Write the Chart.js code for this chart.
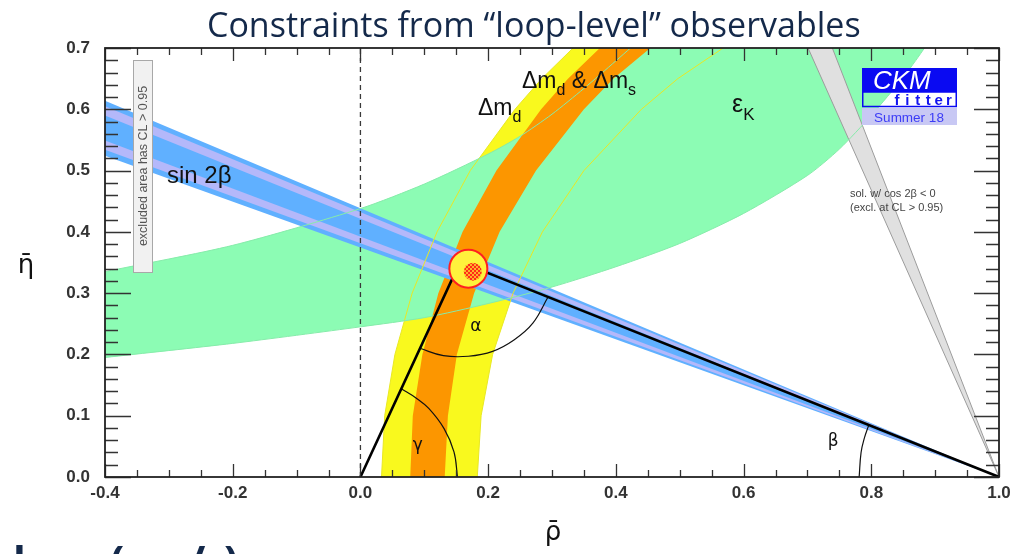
<!DOCTYPE html>
<html lang="en">
<head>
<meta charset="utf-8">
<title>Constraints from loop-level observables</title>
<script src="https://cdn.jsdelivr.net/npm/chart.js@4.4.1/dist/chart.umd.min.js"></script>
<style>
    html, body { margin: 0; padding: 0; background: #ffffff; }
    #ckm-wrap { width: 1025px; height: 554px; overflow: hidden; }
    canvas { display: block; }
</style>
</head>
<body>
<div id="ckm-wrap"><canvas id="ckm-chart" width="1025" height="554"></canvas></div>
<script>
// axis ticks
const xTickValues = [-0.4, -0.2, 0.0, 0.2, 0.4, 0.6, 0.8, 1.0];
const xTickLabels = ['-0.4', '-0.2', '0.0', '0.2', '0.4', '0.6', '0.8', '1.0'];
const yTickValues = [0.0, 0.1, 0.2, 0.3, 0.4, 0.5, 0.6, 0.7];
const yTickLabels = ['0.0', '0.1', '0.2', '0.3', '0.4', '0.5', '0.6', '0.7'];
const xMinorStep = 0.05;
const yMinorStep = 0.02;

// band edges, as [rho, eta]
const dmdOuter = [[0.033, 0], [0.038, 0.1], [0.054, 0.2], [0.081, 0.3], [0.120, 0.4], [0.172, 0.5], [0.242, 0.6], [0.284, 0.65], [0.333, 0.7], [0.402, 0.76]];
const dmdInner = [[0.183, 0], [0.189, 0.1], [0.207, 0.2], [0.239, 0.3], [0.285, 0.4], [0.350, 0.5], [0.440, 0.6], [0.497, 0.65], [0.568, 0.7], [0.687, 0.76]];
const dmsLeft = [[0.078, 0], [0.082, 0.1], [0.097, 0.2], [0.122, 0.3], [0.160, 0.4], [0.213, 0.5], [0.283, 0.6], [0.325, 0.65], [0.375, 0.7], [0.450, 0.76]];
const dmsRight = [[0.132, 0], [0.137, 0.1], [0.151, 0.2], [0.178, 0.3], [0.218, 0.4], [0.275, 0.5], [0.350, 0.6], [0.396, 0.65], [0.454, 0.7], [0.541, 0.76]];
const epsKUpper = [[-0.4, 0.335], [-0.2, 0.378], [0.0, 0.438], [0.1, 0.478], [0.2, 0.527], [0.25, 0.556], [0.3, 0.592], [0.35, 0.634], [0.4, 0.679], [0.45, 0.725]];
const epsKLower = [[-0.4, 0.195], [-0.2, 0.218], [0.0, 0.245], [0.1, 0.260], [0.2, 0.283], [0.3, 0.310], [0.4, 0.343], [0.5, 0.381], [0.6, 0.430], [0.7, 0.492], [0.75, 0.535], [0.8, 0.590], [0.85, 0.652], [0.88, 0.695], [0.9, 0.728]];
const sin2bBand = [[-0.4, 0.614], [1.0, 0], [-0.4, 0.524]];
const sin2bStripeUp = [[-0.4, 0.605], [1.0, 0], [-0.4, 0.590]];
const sin2bStripeLow = [[-0.4, 0.549], [1.0, 0], [-0.4, 0.534]];
const cos2bNegative = [[0.739, 0.7], [1.0, 0], [0.701, 0.7]];

// unitarity triangle and its angles
const triangle = [[0, 0], [0.156, 0.351], [1.0, 0]];
const gammaArc = [[0.152, 0], [0.1465, 0.041], [0.131, 0.079], [0.107, 0.112], [0.087, 0.129], [0.064, 0.144]];
const alphaArc = [[0.093, 0.210], [0.130, 0.198], [0.169, 0.197], [0.207, 0.205], [0.241, 0.224], [0.270, 0.251], [0.294, 0.294]];
const betaArc = [[0.781, 0], [0.784, 0.040], [0.789, 0.063], [0.796, 0.0847]];
const rhoZero = [[0, 0], [0, 0.7]];
const fitRing = [[0.169, 0.340]];
const fitCore = [[0.176, 0.335]];

function toPoints(list) {
    return list.map(([x, y]) => ({ x, y }));
}

function closedBand(edgeA, edgeB) {
    return toPoints(edgeA.concat(edgeB.slice().reverse()));
}

function areaSet(data, color, order, border, tension = 0) {
    return {
        data,
        order,
        showLine: true,
        fill: 'shape',
        backgroundColor: color,
        borderColor: border || 'rgba(0,0,0,0)',
        borderWidth: border ? 1 : 0,
        pointRadius: 0,
        tension,
    };
}

function curveSet(list, color, width, order, extra = {}) {
    return {
        data: toPoints(list),
        order,
        showLine: true,
        fill: false,
        borderColor: color,
        borderWidth: width,
        pointRadius: 0,
        tension: 0,
        ...extra,
    };
}

function dotSet(list, fillColor, borderColor, radius, order) {
    return {
        data: toPoints(list),
        order,
        showLine: false,
        pointRadius: radius,
        pointBackgroundColor: fillColor,
        pointBorderColor: borderColor,
        pointBorderWidth: borderColor ? 2 : 0,
    };
}

function makeHatch() {
    const c = document.createElement('canvas');
    c.width = 4;
    c.height = 4;
    const g = c.getContext('2d');
    g.fillStyle = '#ffb02a';
    g.fillRect(0, 0, 4, 4);
    g.fillStyle = '#ff2c18';
    g.fillRect(0, 0, 2, 2);
    g.fillRect(2, 2, 2, 2);
    return g.createPattern(c, 'repeat');
}

const datasets = [
    dotSet(fitCore, makeHatch(), null, 9, 0),
    dotSet(fitRing, '#fff23c', '#ff2020', 19, 1),
    curveSet(triangle, '#000000', 2.6, 2),
    curveSet(gammaArc, '#111111', 1.2, 3, { tension: 0.4 }),
    curveSet(alphaArc, '#111111', 1.2, 3, { tension: 0.4 }),
    curveSet(betaArc, '#111111', 1.2, 3, { tension: 0.4 }),
    curveSet(rhoZero, '#3a3a3a', 1.3, 4, { borderDash: [5, 4] }),
    curveSet(epsKUpper, '#86ecaa', 1, 5, { tension: 0.25 }),
    curveSet(epsKLower, '#86ecaa', 1, 5, { tension: 0.25 }),
    curveSet(dmdOuter, '#e8e824', 1, 6),
    curveSet(dmdInner, '#e8e824', 1, 6),
    areaSet(toPoints(cos2bNegative), '#e0e0e0', 7, '#9c9c9c'),
    areaSet(toPoints(sin2bStripeUp), '#b4b8fa', 8),
    areaSet(toPoints(sin2bStripeLow), '#b4b8fa', 8),
    areaSet(toPoints(sin2bBand), '#60b0ff', 9),
    areaSet(closedBand(dmsLeft, dmsRight), '#fc9600', 10),
    areaSet(closedBand(epsKUpper, epsKLower), '#8cfcb4', 11, null, 0.25),
    areaSet(closedBand(dmdOuter, dmdInner), '#f9f91e', 12),
];

function drawPieces(ctx, x, y, pieces, size) {
    let cx = x;
    pieces.forEach(([text, sub]) => {
        ctx.font = sub ? `${Math.round(size * 0.68)}px "Liberation Sans"` : `${size}px "Liberation Sans"`;
        ctx.fillText(text, cx, sub ? y + size * 0.3 : y);
        cx += ctx.measureText(text).width;
    });
}

const ckmDecor = {
    id: 'ckmDecor',
    afterDatasetsDraw(chart) {
        const { ctx, chartArea: a, scales: { x, y } } = chart;
        ctx.save();

        // inward ticks on all four sides
        ctx.strokeStyle = '#333333';
        ctx.lineWidth = 1.3;
        ctx.beginPath();
        const yCount = Math.round((y.max - y.min) / yMinorStep);
        for (let i = 0; i <= yCount; i++) {
            const py = Math.round(y.getPixelForValue(y.min + i * yMinorStep)) + 0.5;
            const major = i % 5 === 0;
            ctx.moveTo(a.left, py);
            ctx.lineTo(a.left + (major ? 26 : 13), py);
            ctx.moveTo(a.right, py);
            ctx.lineTo(a.right - (major ? 25 : 13), py);
        }
        const xCount = Math.round((x.max - x.min) / xMinorStep);
        for (let i = 0; i <= xCount; i++) {
            const px = Math.round(x.getPixelForValue(x.min + i * xMinorStep)) + 0.5;
            const major = i % 4 === 0;
            ctx.moveTo(px, a.bottom);
            ctx.lineTo(px, a.bottom - (major ? 13 : 7));
            ctx.moveTo(px, a.top);
            ctx.lineTo(px, a.top + (major ? 13 : 7));
        }
        ctx.stroke();

        ctx.strokeStyle = '#222222';
        ctx.lineWidth = 1.8;
        ctx.strokeRect(a.left, a.top, a.right - a.left, a.bottom - a.top);

        const at = (rho, eta) => [x.getPixelForValue(rho), y.getPixelForValue(eta)];

        // constraint names
        ctx.fillStyle = '#111111';
        ctx.textAlign = 'left';
        ctx.textBaseline = 'alphabetic';
        let [px, py] = at(-0.303, 0.48);
        drawPieces(ctx, px, py, [['sin 2β', false]], 24);
        [px, py] = at(0.184, 0.590);
        drawPieces(ctx, px, py, [['Δm', false], ['d', true]], 23);
        [px, py] = at(0.253, 0.635);
        drawPieces(ctx, px, py, [['Δm', false], ['d', true], [' & ', false], ['Δm', false], ['s', true]], 23);
        [px, py] = at(0.582, 0.595);
        drawPieces(ctx, px, py, [['ε', false], ['K', true]], 25);

        // angle names
        ctx.font = '17px "DejaVu Sans"';
        ctx.textBaseline = 'middle';
        [px, py] = at(0.172, 0.246);
        ctx.fillText('α', px, py);
        [px, py] = at(0.082, 0.052);
        ctx.fillText('γ', px, py);
        [px, py] = at(0.732, 0.057);
        ctx.fillText('β', px, py);

        // second solution note
        ctx.fillStyle = '#444444';
        ctx.font = '11px "Liberation Sans"';
        ctx.textBaseline = 'alphabetic';
        ctx.fillText('sol. w/ cos 2β < 0', a.right - 149, a.top + 149);
        ctx.fillText('(excl. at CL > 0.95)', a.right - 149, a.top + 163);

        // excluded area box
        const bx = a.left + 28, by = a.top + 12, bw = 19, bh = 212;
        ctx.fillStyle = '#f1f1f1';
        ctx.fillRect(bx, by, bw, bh);
        ctx.strokeStyle = '#a8a8a8';
        ctx.lineWidth = 1;
        ctx.strokeRect(bx + 0.5, by + 0.5, bw, bh);
        ctx.save();
        ctx.translate(bx + bw / 2 + 1, by + bh / 2);
        ctx.rotate(-Math.PI / 2);
        ctx.fillStyle = '#555555';
        ctx.font = '12.5px "Liberation Sans"';
        ctx.textAlign = 'center';
        ctx.textBaseline = 'middle';
        ctx.fillText('excluded area has CL > 0.95', 0, 0);
        ctx.restore();

        // CKMfitter logo
        const lx = a.right - 137, ly = a.top + 20;
        ctx.fillStyle = '#0a0af2';
        ctx.fillRect(lx, ly, 95, 24);
        ctx.strokeStyle = '#0a0af2';
        ctx.lineWidth = 1.5;
        ctx.strokeRect(lx + 0.75, ly + 24, 93.5, 14.5);
        ctx.fillStyle = '#c8c8f4';
        ctx.fillRect(lx, ly + 40, 95, 17);
        ctx.fillStyle = '#ffffff';
        ctx.font = 'italic 26px "Liberation Sans"';
        ctx.fillText('CKM', lx + 11, ly + 21);
        ctx.fillStyle = '#1414f0';
        ctx.font = 'bold 15px "Liberation Sans"';
        ctx.textAlign = 'center';
        'fitter'.split('').forEach((ch, i) => ctx.fillText(ch, lx + 35 + i * 10.4, ly + 37));
        ctx.fillStyle = '#3c3cf6';
        ctx.font = '13.5px "Liberation Sans"';
        ctx.fillText('Summer 18', lx + 47, ly + 54);
        ctx.restore();
    },
    afterDraw(chart) {
        const { ctx } = chart;
        ctx.save();
        // slide title
        const title = 'Constraints from “loop-level” observables';
        ctx.fillStyle = '#14294a';
        ctx.font = '35px "Open Sans"';
        const w = ctx.measureText(title).width;
        const size = 35 * 653 / w;
        ctx.font = `${size.toFixed(1)}px "Open Sans"`;
        ctx.textAlign = 'left';
        ctx.textBaseline = 'alphabetic';
        ctx.fillText(title, 207, 37);

        // axis titles
        ctx.fillStyle = '#111111';
        ctx.font = '26px "DejaVu Sans"';
        ctx.textAlign = 'center';
        ctx.textBaseline = 'middle';
        ctx.fillText('η\u0304', 26, 266);
        ctx.fillText('ρ\u0304', 553, 533);

        // top of the next slide line, cut by the frame
        ctx.fillStyle = '#14294a';
        ctx.font = 'bold 42px "Open Sans"';
        ctx.textAlign = 'left';
        ctx.textBaseline = 'alphabetic';
        ctx.fillText('l', 13, 576);
        ctx.fillText('(', 110, 576);
        ctx.fillText('/', 188, 576);
        ctx.fillText(')', 224, 576);
        ctx.restore();
    },
};

const tickFont = { family: '"Liberation Sans"', size: 17, weight: 'bold' };

const ckmChart = new Chart(document.getElementById('ckm-chart'), {
    type: 'scatter',
    data: { datasets },
    options: {
        responsive: false,
        animation: false,
        devicePixelRatio: 1,
        events: [],
        layout: { padding: { top: 48, right: 26, left: 0, bottom: 0 } },
        plugins: {
            legend: { display: false },
            tooltip: { enabled: false },
        },
        scales: {
            x: {
                type: 'linear',
                min: -0.4,
                max: 1.0,
                afterFit: (scale) => { scale.height = 77; },
                afterBuildTicks: (scale) => { scale.ticks = xTickValues.map((value) => ({ value })); },
                grid: { display: false, drawTicks: false },
                border: { display: false },
                ticks: {
                    padding: 6,
                    color: '#333333',
                    font: tickFont,
                    autoSkip: false,
                    maxRotation: 0,
                    callback: (value, index) => xTickLabels[index],
                },
            },
            y: {
                type: 'linear',
                min: 0,
                max: 0.7,
                afterFit: (scale) => { scale.width = 105; },
                afterBuildTicks: (scale) => { scale.ticks = yTickValues.map((value) => ({ value })); },
                grid: { display: false, drawTicks: false },
                border: { display: false },
                ticks: {
                    padding: 15,
                    color: '#333333',
                    font: tickFont,
                    autoSkip: false,
                    callback: (value, index) => yTickLabels[index],
                },
            },
        },
    },
    plugins: [ckmDecor],
});
</script>
</body>
</html>
